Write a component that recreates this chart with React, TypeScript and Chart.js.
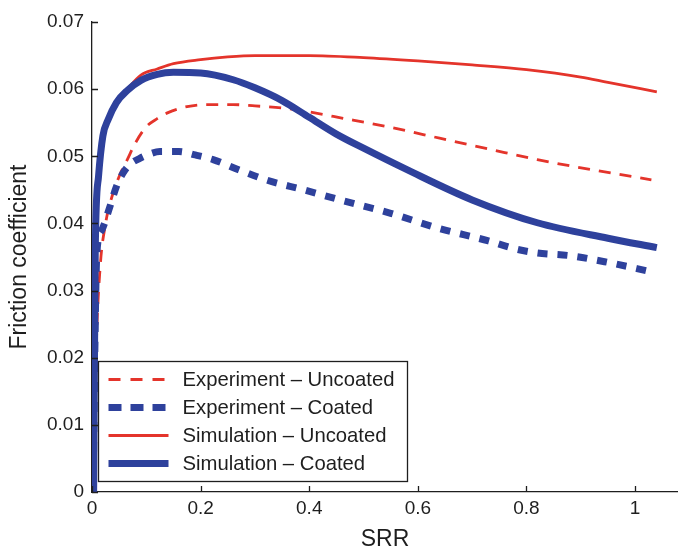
import React, { useEffect, useRef } from "react";
import { Chart, registerables } from "chart.js";

Chart.register(...registerables);

const FONT = '"Liberation Sans", Arial, Helvetica, sans-serif';
const RED = "#e4342b";
const BLUE = "#2e419c";
const INK = "#1e1e1e";

const X_TICKS = [0, 0.2, 0.4, 0.6, 0.8, 1];
const X_TICK_LABELS = ["0", "0.2", "0.4", "0.6", "0.8", "1"];
const Y_TICKS = [0, 0.01, 0.02, 0.03, 0.04, 0.05, 0.06, 0.07];
const Y_TICK_LABELS = ["0", "0.01", "0.02", "0.03", "0.04", "0.05", "0.06", "0.07"];

const EXP_UNCOATED_X = [0.003, 0.008, 0.015, 0.025, 0.035, 0.05, 0.065, 0.08, 0.1, 0.12, 0.14, 0.175, 0.21, 0.26, 0.3, 0.35, 0.4, 0.46, 0.55, 0.64, 0.73, 0.82, 0.92, 1.03];
const EXP_UNCOATED_Y = [0.003, 0.022, 0.0335, 0.04, 0.0435, 0.047, 0.0495, 0.052, 0.0544, 0.0556, 0.0565, 0.0574, 0.0577, 0.0577, 0.0575, 0.0572, 0.0566, 0.0557, 0.0543, 0.0527, 0.0511, 0.0495, 0.048, 0.0465];

const EXP_COATED_X = [0.002, 0.005, 0.009, 0.018, 0.033, 0.045, 0.057, 0.07, 0.088, 0.105, 0.125, 0.16, 0.19, 0.223, 0.27, 0.32, 0.39, 0.457, 0.55, 0.637, 0.73, 0.78, 0.82, 0.88, 0.95, 1.03];
const EXP_COATED_Y = [0.0, 0.02, 0.0356, 0.039, 0.0425, 0.0455, 0.0475, 0.0488, 0.0497, 0.0503, 0.0507, 0.0507, 0.0502, 0.0495, 0.048, 0.0465, 0.045, 0.0435, 0.0415, 0.0393, 0.0374, 0.0362, 0.0356, 0.0352, 0.0342, 0.0328];

const SIM_UNCOATED_X = [0.002, 0.006, 0.012, 0.02, 0.03, 0.045, 0.065, 0.09, 0.12, 0.15, 0.2, 0.25, 0.3, 0.35, 0.4, 0.5, 0.6, 0.7, 0.8, 0.9, 0.95, 1.04];
const SIM_UNCOATED_Y = [0.003, 0.036, 0.047, 0.053, 0.0555, 0.058, 0.06, 0.0621, 0.063, 0.0638, 0.0644, 0.0648, 0.065, 0.065, 0.065, 0.0647, 0.0642, 0.0636, 0.0629, 0.0618, 0.0610, 0.0596];

const SIM_COATED_X = [0.003, 0.006, 0.012, 0.02, 0.03, 0.045, 0.065, 0.09, 0.12, 0.15, 0.2, 0.26, 0.3, 0.35, 0.4, 0.45, 0.5, 0.58, 0.7, 0.82, 0.95, 1.04];
const SIM_COATED_Y = [0.0, 0.036, 0.047, 0.053, 0.0555, 0.058, 0.0598, 0.0613, 0.0622, 0.0625, 0.0624, 0.0614, 0.0602, 0.0583, 0.0558, 0.0533, 0.0512, 0.048, 0.0435, 0.0401, 0.0378, 0.0364];

const LABELS = [
  "Experiment \u2013 Uncoated",
  "Experiment \u2013 Coated",
  "Simulation \u2013 Uncoated",
  "Simulation \u2013 Coated",
];

const toPoints = (xs: number[], ys: number[]) => xs.map((x, i) => ({ x, y: ys[i] }));

const innerTicksAndLegend = {
  id: "innerTicksAndLegend",
  afterDraw(chart: any) {
    const { ctx, chartArea } = chart;
    const xs = chart.scales.x;
    const ys = chart.scales.y;
    ctx.save();
    ctx.strokeStyle = INK;
    ctx.lineWidth = 1.3;
    ctx.setLineDash([]);
    ctx.beginPath();
    X_TICKS.forEach((v) => {
      const px = Math.round(xs.getPixelForValue(v)) + 0.5;
      ctx.moveTo(px, chartArea.bottom);
      ctx.lineTo(px, chartArea.bottom - 6);
    });
    Y_TICKS.forEach((v) => {
      const py = Math.round(ys.getPixelForValue(v)) + 0.5;
      ctx.moveTo(chartArea.left, py);
      ctx.lineTo(chartArea.left + 6, py);
    });
    ctx.stroke();

    // legend box
    const bx = chartArea.left + 6.5;
    const bw = 309;
    const bh = 120;
    const by = chartArea.bottom - 10.5 - bh;
    ctx.fillStyle = "#ffffff";
    ctx.fillRect(bx, by, bw, bh);
    ctx.strokeStyle = INK;
    ctx.lineWidth = 1.3;
    ctx.strokeRect(bx, by, bw, bh);

    const datasets = chart.data.datasets;
    ctx.font = `20.3px ${FONT}`;
    ctx.textBaseline = "middle";
    ctx.textAlign = "left";
    LABELS.forEach((label, i) => {
      const ds = datasets.find((d: any) => d.label === label);
      const cy = by + 18 + i * 28;
      ctx.save();
      ctx.strokeStyle = ds.borderColor;
      ctx.lineWidth = ds.borderWidth;
      ctx.lineCap = "butt";
      ctx.setLineDash(ds.legendDash || []);
      ctx.beginPath();
      ctx.moveTo(bx + 10, cy);
      ctx.lineTo(bx + 70, cy);
      ctx.stroke();
      ctx.restore();
      ctx.fillStyle = INK;
      ctx.fillText(label, bx + 84, cy + 1);
    });
    ctx.restore();
  },
};

export default function App() {
  const ref = useRef<HTMLCanvasElement | null>(null);
  useEffect(() => {
    if (!ref.current) return;
    const chart = new Chart(ref.current, {
      type: "line",
      data: {
        datasets: [
          {
            label: LABELS[3],
            data: toPoints(SIM_COATED_X, SIM_COATED_Y),
            borderColor: BLUE,
            borderWidth: 7,
            cubicInterpolationMode: "monotone",
            pointRadius: 0,
            order: 0,
          },
          {
            label: LABELS[2],
            data: toPoints(SIM_UNCOATED_X, SIM_UNCOATED_Y),
            borderColor: RED,
            borderWidth: 2.8,
            cubicInterpolationMode: "monotone",
            pointRadius: 0,
            order: 1,
          },
          {
            label: LABELS[1],
            data: toPoints(EXP_COATED_X, EXP_COATED_Y),
            borderColor: BLUE,
            borderWidth: 7,
            borderDash: [10, 10],
            legendDash: [13, 9],
            borderCapStyle: "butt",
            cubicInterpolationMode: "monotone",
            pointRadius: 0,
            order: 2,
          },
          {
            label: LABELS[0],
            data: toPoints(EXP_UNCOATED_X, EXP_UNCOATED_Y),
            borderColor: RED,
            borderWidth: 2.8,
            borderDash: [12, 9],
            legendDash: [12, 10],
            borderCapStyle: "butt",
            cubicInterpolationMode: "monotone",
            pointRadius: 0,
            order: 3,
          },
        ],
      } as any,
      options: {
        animation: false,
        responsive: false,
        devicePixelRatio: 1,
        layout: { padding: { top: 22, right: 0, bottom: 0, left: 0 } },
        plugins: {
          legend: { display: false },
          tooltip: { enabled: false },
          title: { display: false },
        },
        scales: {
          x: {
            type: "linear",
            min: 0,
            max: 1.079,
            afterBuildTicks: (s: any) => {
              s.ticks = X_TICKS.map((v) => ({ value: v }));
            },
            afterFit: (s: any) => {
              s.height = 57;
            },
            grid: { display: false, drawTicks: false },
            border: { display: true, color: INK, width: 1.3 },
            ticks: {
              color: INK,
              padding: 5,
              maxRotation: 0,
              font: { family: FONT, size: 19 },
              callback: (_v: any, i: number) => X_TICK_LABELS[i],
            },
            title: {
              display: true,
              text: "SRR",
              color: INK,
              padding: { top: 0, bottom: 0 },
              font: { family: FONT, size: 23, lineHeight: 0.8 },
            },
          },
          y: {
            type: "linear",
            min: 0,
            max: 0.07,
            afterBuildTicks: (s: any) => {
              s.ticks = Y_TICKS.map((v) => ({ value: v }));
            },
            afterFit: (s: any) => {
              s.width = 92;
            },
            grid: { display: false, drawTicks: false },
            border: { display: true, color: INK, width: 1.3 },
            ticks: {
              color: INK,
              padding: 8,
              font: { family: FONT, size: 19 },
              callback: (_v: any, i: number) => Y_TICK_LABELS[i],
            },
            title: {
              display: true,
              text: "Friction coefficient",
              color: INK,
              padding: { top: 6, bottom: 0 },
              font: { family: FONT, size: 23, lineHeight: 1.2 },
            },
          },
        },
      } as any,
      plugins: [innerTicksAndLegend],
    });
    return () => chart.destroy();
  }, []);

  return (
    <div style={{ position: "fixed", left: 0, top: 0, width: 678, height: 549, background: "#fff" }}>
      <canvas ref={ref} width={678} height={549} style={{ display: "block", width: 678, height: 549 }} />
    </div>
  );
}
